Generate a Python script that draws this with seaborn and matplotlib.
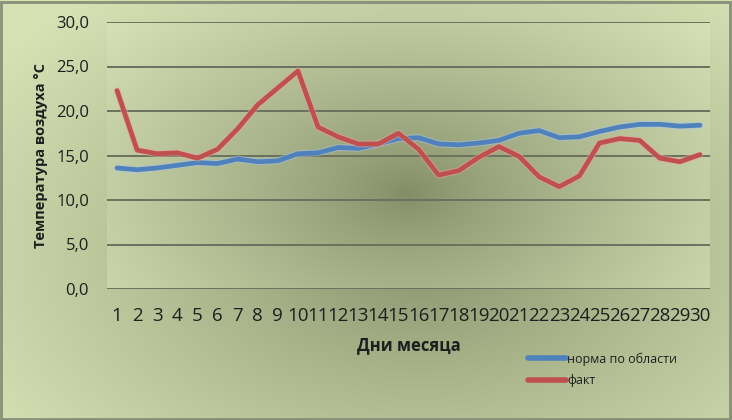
import numpy as np
import pandas as pd
import matplotlib
matplotlib.use("Agg")
import matplotlib.pyplot as plt
import matplotlib.patheffects as pe
from matplotlib.patches import Rectangle
from matplotlib.ticker import FuncFormatter, MultipleLocator
import seaborn as sns

days = list(range(1, 31))
norma = [13.6, 13.4, 13.6, 13.9, 14.2, 14.1, 14.6, 14.3, 14.4, 15.2,
         15.3, 15.9, 15.8, 16.3, 16.9, 17.0, 16.3, 16.2, 16.4, 16.7,
         17.5, 17.8, 17.0, 17.1, 17.7, 18.2, 18.5, 18.5, 18.3, 18.4]
fakt = [22.3, 15.6, 15.2, 15.3, 14.7, 15.7, 18.0, 20.7, 22.6, 24.5,
        18.2, 17.1, 16.3, 16.3, 17.5, 15.7, 12.8, 13.3, 14.8, 16.0,
        14.9, 12.6, 11.5, 12.7, 16.4, 16.9, 16.7, 14.7, 14.3, 15.1]
series_names = ["норма по области", "факт"]
colors = ["#4F81BD", "#C0504D"]

df = pd.DataFrame({"day": days * 2,
                   "temp": norma + fakt,
                   "series": [series_names[0]] * 30 + [series_names[1]] * 30})

sns.set_theme(style="white")
plt.rcParams['font.family'] = ['Open Sans', 'DejaVu Sans']


def radial(w, h, cx, cy, rx, ry, c_in, c_out):
    yy, xx = np.mgrid[0:h, 0:w]
    t = np.sqrt(((xx - cx) / rx) ** 2 + ((yy - cy) / ry) ** 2)
    t = np.clip(t, 0, 1)[..., None] ** 0.8
    c_in = np.array(c_in) / 255.0
    c_out = np.array(c_out) / 255.0
    return c_in * (1 - t) + c_out * t


fig = plt.figure(figsize=(7.32, 4.2), dpi=100)

# outer background
bg = fig.add_axes([0, 0, 1, 1], zorder=-2)
bg.imshow(radial(732, 420, 420, 250, 520, 330, (132, 142, 104), (214, 225, 180)),
          aspect="auto", extent=[0, 1, 0, 1])
bg.axis("off")
fig.patches.append(Rectangle((0.002, 0.003), 0.995, 0.993, transform=fig.transFigure,
                             fill=False, edgecolor="#8a8f78", linewidth=2))

pos = [107 / 732, 131 / 420, 603 / 732, 267 / 420]

# plot area background
pa = fig.add_axes(pos, zorder=-1)
pa.imshow(radial(603, 267, 300, 170, 430, 270, (130, 140, 102), (218, 229, 186)),
          aspect="auto", extent=[0, 1, 0, 1])
pa.axis("off")

ax = fig.add_axes(pos)
ax.set_facecolor("none")

sns.lineplot(data=df, x="day", y="temp", hue="series", palette=colors,
             linewidth=3.4, ax=ax, legend=True)

for line, c in zip(ax.lines, ["#a8c4e4", "#e4a8a6"]):
    line.set_path_effects([pe.Stroke(linewidth=5, foreground=c, alpha=0.5), pe.Normal()])
    line.set_solid_capstyle("round")

ax.set_xlim(0.5, 30.5)
ax.set_ylim(0, 30)
ax.set_xticks(days)
ax.yaxis.set_major_locator(MultipleLocator(5))
ax.yaxis.set_major_formatter(FuncFormatter(lambda v, p: f"{v:.1f}".replace(".", ",")))
ax.grid(axis="y", color="#6c715c", linewidth=1.4)
ax.grid(axis="x", visible=False)
for s in ax.spines.values():
    s.set_visible(False)
ax.tick_params(axis="both", length=0, labelsize=12, colors="#1e1e1e")
ax.tick_params(axis="x", pad=13, labelsize=13.5)
ax.tick_params(axis="y", pad=13)

ax.set_xlabel("Дни месяца", fontsize=12, fontweight="bold", color="#1e1e1e", labelpad=8)
ax.set_ylabel("Температура воздуха °С", fontsize=10.5, fontweight="bold", color="#1e1e1e", labelpad=6)

leg = ax.legend(loc="upper left", bbox_to_anchor=(0.68, -0.195), frameon=False,
                fontsize=9, handlelength=3.0, handletextpad=0.1, labelspacing=0.7)
for h in leg.get_lines():
    h.set_linewidth(4)
for t in leg.get_texts():
    t.set_color("#1e1e1e")

fig.savefig("out.png", dpi=100)
